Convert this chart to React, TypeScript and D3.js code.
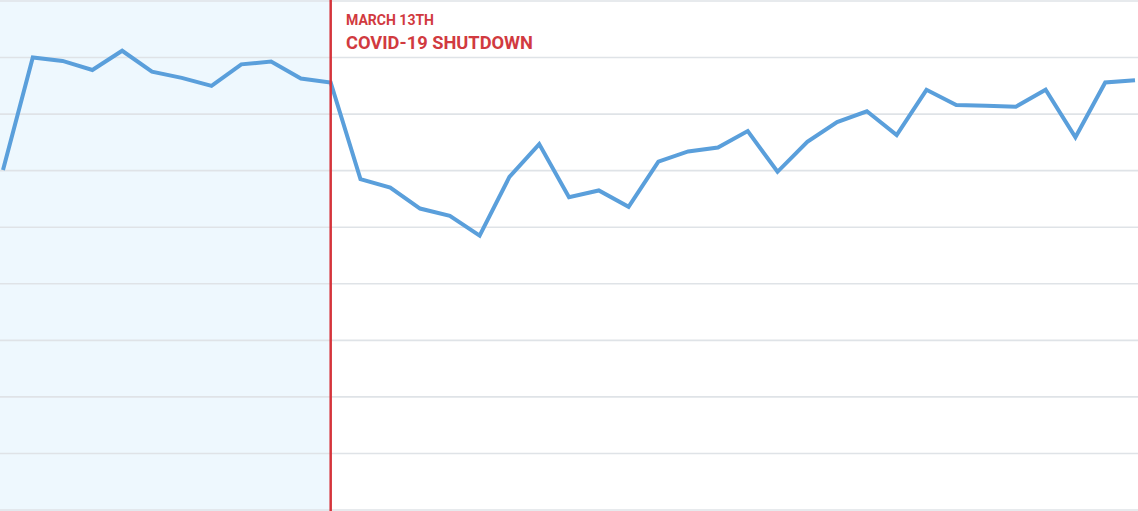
import React from "react";
import * as d3 from "d3";

// Weekly index values; the shutdown falls on week index 11
const weeks: number[] = d3.range(39);
const values: number[] = [
  60.1, 80.0, 79.4, 77.8, 81.2, 77.5, 76.4, 75.0, 78.8, 79.3, 76.3, 75.6,
  58.5, 57.0, 53.3, 52.0, 48.5, 58.9, 64.7, 55.3, 56.5, 53.6, 61.6, 63.4,
  64.1, 67.0, 59.8, 65.1, 68.6, 70.5, 66.3, 74.3, 71.6, 71.5, 71.3, 74.3,
  65.9, 75.6, 76.0,
];
const gridTicks: number[] = d3.range(0, 91, 10);
const shutdownIndex = 11;
const annotationLines: string[] = ["MARCH 13TH", "COVID-19 SHUTDOWN"];

const W = 1138;
const H = 511;

export default function App() {
  const x = d3.scaleLinear().domain([0, 38]).range([3, 1135]);
  const y = d3.scaleLinear().domain([0, 90]).range([510, 1]);
  const line = d3
    .line<number>()
    .x((_, i) => x(weeks[i]))
    .y((d) => y(d));
  const sx = x(shutdownIndex);

  return (
    <svg
      width={W}
      height={H}
      style={{ position: "absolute", left: 0, top: 0, display: "block" }}
    >
      <rect x={0} y={0} width={W} height={H} fill="#ffffff" />
      <rect x={0} y={0} width={sx} height={H} fill="#eef8fe" />
      {gridTicks.map((t) => (
        <line
          key={t}
          x1={0}
          x2={W}
          y1={y(t)}
          y2={y(t)}
          stroke="#dfe3e7"
          strokeWidth={1.6}
        />
      ))}
      <path
        d={line(values) || ""}
        fill="none"
        stroke="#5a9fdb"
        strokeWidth={4}
        strokeLinejoin="miter"
      />
      <line x1={sx} x2={sx} y1={0} y2={H} stroke="#d5343b" strokeWidth={2.5} />
      <text
        x={346}
        y={24.5}
        fontFamily="Roboto, 'Noto Sans', sans-serif"
        fontWeight={700}
        fontSize={15}
        fill="#d13a40"
        textLength={88}
        lengthAdjust="spacingAndGlyphs"
      >
        {annotationLines[0]}
      </text>
      <text
        x={346}
        y={48.5}
        fontFamily="Roboto, 'Noto Sans', sans-serif"
        fontWeight={700}
        fontSize={18.5}
        fill="#d13a40"
        textLength={187}
        lengthAdjust="spacingAndGlyphs"
      >
        {annotationLines[1]}
      </text>
    </svg>
  );
}
